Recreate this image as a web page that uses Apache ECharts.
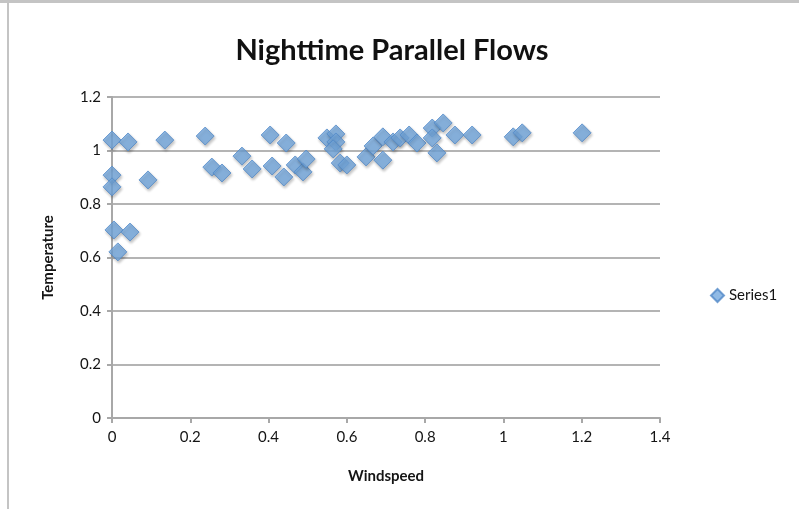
<!DOCTYPE html>
<html>
<head>
<meta charset="utf-8">
<script src="https://cdn.jsdelivr.net/npm/echarts@6/dist/echarts.min.js"></script>
<style>
  html, body { margin: 0; padding: 0; background: #fff; }
  #chart { width: 799px; height: 509px; }
</style>
</head>
<body>
<div id="chart"></div>
<script>
// windspeed / temperature pairs
const windspeed = [
  0, 0.041, 0.135, 0, 0, 0.092, 0.005, 0.046, 0.015,
  0.238, 0.255, 0.281, 0.332, 0.358, 0.404, 0.409, 0.445, 0.439,
  0.468, 0.488, 0.496, 0.549, 0.572, 0.572, 0.565, 0.583, 0.6,
  0.649, 0.667, 0.692, 0.692, 0.718, 0.736, 0.759, 0.779, 0.818,
  0.818, 0.83, 0.846, 0.876, 0.92, 1.025, 1.048, 1.201
];
const temperature = [
  1.039, 1.032, 1.039, 0.908, 0.864, 0.89, 0.703, 0.695, 0.621,
  1.054, 0.938, 0.916, 0.979, 0.931, 1.058, 0.942, 1.028, 0.901,
  0.946, 0.92, 0.968, 1.047, 1.062, 1.032, 1.006, 0.953, 0.946,
  0.976, 1.017, 1.051, 0.964, 1.032, 1.047, 1.058, 1.028, 1.084,
  1.047, 0.991, 1.103, 1.058, 1.058, 1.051, 1.066, 1.066
];
const seriesName = 'Series1';

const chart = echarts.init(document.getElementById('chart'));
const txt = '#141414';
const font = 'Lato';

chart.setOption({
  animation: false,
  title: {
    text: 'Nighttime Parallel Flows',
    left: 387,
    top: 31,
    textAlign: 'center',
    textStyle: { fontFamily: font, fontSize: 29, fontWeight: 'bold', color: '#111' }
  },
  legend: {
    data: [{ name: seriesName, icon: 'diamond' }],
    left: 705,
    top: 283,
    itemWidth: 13,
    itemHeight: 13,
    itemGap: 3,
    textStyle: { fontFamily: font, fontSize: 15, color: txt }
  },
  grid: { left: 112, right: 139, top: 97, bottom: 91 },
  xAxis: {
    type: 'value',
    min: 0,
    max: 1.4,
    interval: 0.2,
    name: 'Windspeed',
    nameLocation: 'middle',
    nameGap: 51,
    nameTextStyle: { fontFamily: font, fontSize: 15, fontWeight: 'bold', color: txt },
    axisLine: { show: true, lineStyle: { color: '#a8a8a8', width: 2 } },
    axisTick: { show: true, inside: false, length: 5, lineStyle: { color: '#a8a8a8', width: 2 } },
    axisLabel: { fontFamily: font, fontSize: 15, color: txt, margin: 12 },
    splitLine: { show: false }
  },
  yAxis: {
    type: 'value',
    min: 0,
    max: 1.2,
    interval: 0.2,
    name: 'Temperature',
    nameLocation: 'middle',
    nameGap: 56,
    nameTextStyle: { fontFamily: font, fontSize: 15, fontWeight: 'bold', color: txt },
    axisLine: { show: true, lineStyle: { color: '#a8a8a8', width: 2 } },
    axisTick: { show: true, inside: false, length: 5, lineStyle: { color: '#a8a8a8', width: 2 } },
    axisLabel: { fontFamily: font, fontSize: 15, color: txt, margin: 11 },
    splitLine: { show: true, lineStyle: { color: '#b4b4b4', width: 2 } }
  },
  graphic: [
    { type: 'line', shape: { x1: 0, y1: 1.5, x2: 799, y2: 1.5 }, style: { stroke: '#c4c4c4', lineWidth: 3 } },
    { type: 'line', shape: { x1: 8, y1: 0, x2: 8, y2: 509 }, style: { stroke: '#c4c4c4', lineWidth: 2 } }
  ],
  series: [{
    name: seriesName,
    type: 'scatter',
    symbol: 'diamond',
    symbolSize: 18,
    data: windspeed.map((x, i) => [x, temperature[i]]),
    itemStyle: {
      color: '#74a9df',
      borderColor: '#5289c8',
      borderWidth: 1,
      shadowColor: 'rgba(0,0,0,0.3)',
      shadowBlur: 3,
      shadowOffsetX: 1,
      shadowOffsetY: 2
    }
  }]
});
</script>
</body>
</html>
